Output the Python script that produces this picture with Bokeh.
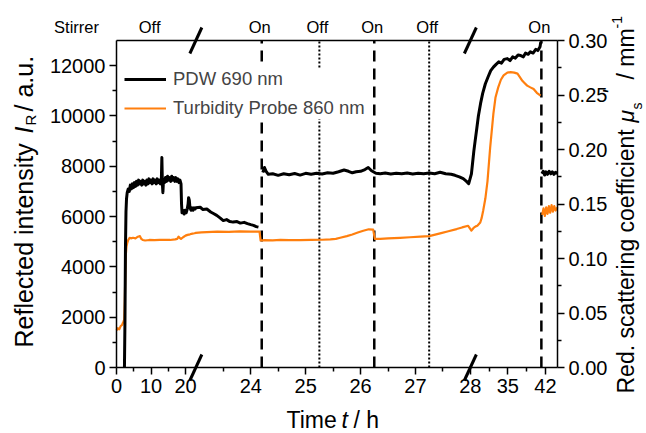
import numpy as np
from bokeh.plotting import figure
from bokeh.models import (Range1d, LinearAxis, FixedTicker, Label,
                          Legend, LegendItem, ColumnDataSource,
                          PrintfTickFormatter)
from bokeh.embed import file_html
from bokeh.resources import INLINE

nan = float("nan")

# ---------------- data ----------------
# PDW 690 nm reflected intensity (left axis, a.u.) vs time (h)
pdw_t = [
    2.3, 2.45, 2.6, 2.75, 2.9, 3.1, 3.4, 3.7, 4.0, 4.3,
    4.6, 4.9, 5.2, 5.5, 5.8, 6.1, 6.4, 6.7, 7.0, 7.3,
    7.6, 7.9, 8.2, 8.5, 8.8, 9.1, 9.4, 9.7, 10.0, 10.3,
    10.6, 10.9, 11.2, 11.5, 11.8, 12.1, 12.4, 12.7, 13.0, 13.15,
    13.3, 13.45, 13.6, 13.9, 14.2, 14.5, 14.8, 15.1, 15.4, 15.7,
    16.0, 16.3, 16.6, 16.9, 17.2, 17.5, 17.8, 18.1, 18.4, 18.7,
    18.85, 19.0, 19.3, 19.6, 19.9, 20.2, 20.5, 20.75, 20.9, 21.1,
    21.3, 21.6, 21.9, 22.2, 22.5, 22.8, 23.0, 23.08, 23.13, 23.2,
    23.27, 23.32, 23.38, 23.44, 23.5, 23.56, 23.62, 23.68, 23.75, 23.81,
    23.88, 23.94, 24.0, 24.05, 24.1, 24.14, nan, 24.22, 24.25, 24.28,
    24.32, 24.4, 24.5, 24.6, 24.7, 24.8, 24.9, 25.0, 25.1, 25.2,
    25.3, 25.4, 25.5, 25.6, 25.7, 25.78, 25.85, 25.92, 26.0, 26.08,
    26.14, 26.2, 26.28, 26.36, 26.45, 26.55, 26.65, 26.75, 26.85, 26.95,
    27.05, 27.15, 27.25, 27.35, 27.45, 27.55, 27.65, 27.72, 27.8, 27.87,
    27.93, 27.97, 28.2, 28.4, 28.65, 28.9, 29.2, 29.5, 29.9, 30.3,
    30.8, 31.3, 31.8, 32.3, 32.8, 33.3, 33.8, 34.3, 34.9, 35.4,
    35.9, 36.4, 36.9, 37.4, 37.9, 38.3, 38.8, 39.2, 39.7, 40.2,
    40.6, 41.0, 41.15, nan, 41.35, 41.6, 41.85, 42.1, 42.4, 42.7,
    43.0, 43.3, 43.6, 43.9, 44.26,
]
pdw_intensity = [
    0, 1800, 4800, 6200, 6700, 6950, 7100, 7000, 7250, 7100,
    7300, 7150, 7350, 7200, 7400, 7250, 7450, 7300, 7400, 7250,
    7450, 7300, 7400, 7250, 7450, 7300, 7500, 7350, 7450, 7300,
    7500, 7350, 7450, 7300, 7500, 7350, 7450, 7300, 7450, 8350,
    7300, 6950, 7400, 7350, 7550, 7400, 7600, 7450, 7550, 7400,
    7600, 7450, 7550, 7400, 7550, 7400, 7500, 7350, 7450, 7300,
    6500, 6150, 6250, 6100, 6250, 6150, 6300, 6500, 6750, 6650,
    6350, 6250, 6350, 6250, 6350, 6300, 6350, 6370, 6280, 6300,
    6180, 6120, 6050, 5950, 5840, 5880, 5800, 5780, 5800, 5740,
    5770, 5720, 5680, 5650, 5600, 5580, nan, 7750, 7950, 7800,
    7680, 7700, 7640, 7700, 7660, 7710, 7650, 7720, 7680, 7720,
    7690, 7740, 7720, 7780, 7850, 7800, 7740, 7780, 7800, 7870,
    7950, 7820, 7720, 7700, 7730, 7690, 7720, 7700, 7730, 7690,
    7720, 7700, 7730, 7700, 7760, 7700, 7680, 7640, 7580, 7510,
    7400, 7310, 7700, 8100, 8600, 9020, 9500, 10000, 10490, 10900,
    11280, 11550, 11800, 11940, 12050, 12150, 12100, 12250, 12280, 12200,
    12350, 12300, 12420, 12400, 12350, 12500, 12450, 12550, 12500, 12650,
    12600, 12750, 12950, nan, 7700, 7800, 7650, 7780, 7680, 7800,
    7700, 7780, 7680, 7760, 7720,
]

# Turbidity probe 860 nm reduced scattering coefficient (right axis, 1/mm)
turb_t = [
    0.0, 0.4, 0.8, 1.2, 1.6, 2.0, 2.25, 2.4, 2.55, 2.7,
    2.9, 3.1, 3.4, 3.8, 4.2, 4.8, 5.5, 6.2, 6.8, 7.2,
    7.6, 8.3, 9.5, 11.0, 12.5, 14.0, 15.5, 17.0, 17.6, 18.0,
    18.3, 18.7, 19.3, 20.0, 20.6, 21.3, 22.0, 22.6, 23.0, 23.1,
    23.2, 23.39, 23.6, 23.8, 24.0, 24.16, 24.18, 24.25, 24.4, 24.54,
    24.7, 24.9, 25.1, 25.3, 25.45, 25.55, 25.63, 25.75, 25.85, 25.95,
    26.05, 26.15, 26.23, 26.26, 26.36, 26.5, 26.72, 26.9, 27.09, 27.25,
    27.45, 27.6, 27.75, 27.85, 27.96, 28.2, 28.6, 29.0, 29.3, 29.85,
    30.1, 30.4, 30.8, 31.2, 31.7, 32.3, 32.7, 33.2, 33.7, 34.2,
    34.9, 35.5, 36.2, 36.8, 37.3, 37.7, 38.1, 38.6, 39.2, 39.8,
    40.4, 41.1, nan, 41.4, 41.65, 41.9, 42.15, 42.4, 42.65, 42.9,
    43.15, 43.4, 43.65, 43.9, 44.26,
]
turb_mu = [
    0.034, 0.036, 0.035, 0.038, 0.039, 0.042, 0.044, 0.060, 0.085, 0.103,
    0.111, 0.114, 0.117, 0.119, 0.1185, 0.119, 0.1185, 0.120, 0.1205, 0.118,
    0.117, 0.1165, 0.117, 0.1168, 0.117, 0.1172, 0.117, 0.1175, 0.118, 0.120,
    0.119, 0.118, 0.1195, 0.121, 0.1217, 0.1222, 0.1228, 0.1232, 0.1235, 0.124,
    0.1242, 0.1247, 0.1245, 0.1248, 0.1246, 0.1247, 0.1165, 0.1168, 0.1166, 0.117,
    0.1168, 0.1168, 0.117, 0.1172, 0.1175, 0.118, 0.119, 0.1205, 0.122, 0.1238,
    0.1255, 0.1268, 0.1265, 0.118, 0.118, 0.1185, 0.119, 0.1195, 0.120, 0.1205,
    0.123, 0.125, 0.127, 0.1285, 0.130, 0.1256, 0.128, 0.1295, 0.130, 0.133,
    0.137, 0.144, 0.155, 0.171, 0.202, 0.233, 0.248, 0.257, 0.264, 0.268,
    0.2705, 0.271, 0.2705, 0.2696, 0.266, 0.263, 0.261, 0.2586, 0.257, 0.2555,
    0.252, 0.2494, nan, 0.140, 0.146, 0.139, 0.147, 0.141, 0.148, 0.142,
    0.149, 0.143, 0.148, 0.144, 0.147,
]

# stirrer events
stirrer_first_label_t = 9.6
stirrer_t = [24.2, 25.25, 26.25, 27.25, 41.25]
stirrer_state = ["On", "Off", "On", "Off", "On"]

# axis ticks
x_major_t = [0, 10, 20, 24, 25, 26, 27, 28, 35, 42]
x_minor_t = [5, 15, 23.5, 24.5, 25.5, 26.5, 27.5, 31.5, 38.5]
y_major = [0, 2000, 4000, 6000, 8000, 10000, 12000]
y_minor = [1000, 3000, 5000, 7000, 9000, 11000]
mu_major = [0.0, 0.05, 0.10, 0.15, 0.20, 0.25, 0.30]
mu_minor = [0.025, 0.075, 0.125, 0.175, 0.225, 0.275]
axis_breaks_t = [23.0, 28.0]

# ---------------- layout ----------------
W, H = 645, 433                                          # canvas px
FRAME_L, FRAME_T, FRAME_R, FRAME_B = 116, 40, 557, 367   # plot box, canvas px
FRAME_W = FRAME_R - FRAME_L
FRAME_H = FRAME_B - FRAME_T
Y_MAX = 13000
MU_MAX = 0.30
SCALES = [3.45, 54.9, 5.36]   # px per hour in the three axis segments
FONT = "Liberation Sans"


def to_disp(t):
    t = np.asarray(t, dtype=float)
    b0, b1 = axis_breaks_t
    d1 = t * SCALES[0]
    d2 = b0 * SCALES[0] + (t - b0) * SCALES[1]
    d3 = b0 * SCALES[0] + (b1 - b0) * SCALES[1] + (t - b1) * SCALES[2]
    return np.where(t <= b0, d1, np.where(t <= b1, d2, d3))


def X(px):
    return float(px - FRAME_L)


def Y(py):
    return float((FRAME_B - py) / FRAME_H * Y_MAX)


def MU(py):
    return float((FRAME_B - py) / FRAME_H * MU_MAX)


# the frame spans the whole canvas; the plot box is drawn with bounded axes
p = figure(width=W, height=H, output_backend="svg", toolbar_location=None,
           x_range=Range1d(X(0), X(W)), y_range=Range1d(Y(H), Y(0)),
           min_border=0)
p.extra_y_ranges = {"mu": Range1d(MU(H), MU(0))}
p.xgrid.visible = False
p.ygrid.visible = False
p.outline_line_color = None
p.background_fill_color = "white"
p.border_fill_color = "white"

# stirrer event lines
on_x = [float(to_disp(t)) for t, s in zip(stirrer_t, stirrer_state) if s == "On"]
off_x = [float(to_disp(t)) for t, s in zip(stirrer_t, stirrer_state) if s == "Off"]
p.segment(x0=on_x, y0=[0] * len(on_x), x1=on_x, y1=[Y_MAX] * len(on_x),
          line_color="black", line_dash="11 7", line_width=2.5)
p.segment(x0=off_x, y0=[0] * len(off_x), x1=off_x, y1=[Y_MAX] * len(off_x),
          line_color="black", line_dash="2 2", line_width=2)

src_turb = ColumnDataSource(dict(x=to_disp(turb_t), y=np.array(turb_mu, dtype=float)))
src_pdw = ColumnDataSource(dict(x=to_disp(pdw_t), y=np.array(pdw_intensity, dtype=float)))
r_turb = p.line("x", "y", source=src_turb, y_range_name="mu",
                line_color="#FF7F0E", line_width=2.2, line_join="round")
r_pdw = p.line("x", "y", source=src_pdw, line_color="black",
               line_width=3, line_join="round")

# axes (fixed at the plot box edges)
maj_d = [round(float(v), 4) for v in to_disp(x_major_t)]
min_d = [round(float(v), 4) for v in to_disp(x_minor_t)]
xa = p.xaxis[0]
xa.ticker = FixedTicker(ticks=maj_d, minor_ticks=min_d)
xa.major_label_overrides = {d: str(lab) for d, lab in zip(maj_d, x_major_t)}
xa.fixed_location = 0
xa.bounds = (0, FRAME_W)

ya = p.yaxis[0]
ya.ticker = FixedTicker(ticks=y_major, minor_ticks=y_minor)
ya.fixed_location = 0
ya.bounds = (0, Y_MAX)

ra = LinearAxis(y_range_name="mu",
                ticker=FixedTicker(ticks=mu_major, minor_ticks=mu_minor),
                formatter=PrintfTickFormatter(format="%.2f"),
                fixed_location=FRAME_W, bounds=(0, MU_MAX))
p.add_layout(ra, "right")

ta = LinearAxis(ticker=FixedTicker(ticks=[], minor_ticks=[]),
                fixed_location=Y_MAX, bounds=(0, FRAME_W))
p.add_layout(ta, "above")

for ax in (xa, ya, ra, ta):
    ax.axis_label = None
    ax.axis_line_width = 1.5
    ax.axis_line_color = "black"
    ax.major_tick_line_width = 1.5
    ax.minor_tick_line_width = 1.5
    ax.major_tick_out = 7
    ax.major_tick_in = 0
    ax.minor_tick_out = 4
    ax.minor_tick_in = 0
    ax.major_label_text_font = FONT
    ax.major_label_text_font_size = "20px"
    ax.major_label_text_color = "black"
    ax.major_label_standoff = 4

# axis break marks
dy = 13 * Y_MAX / FRAME_H
bx0, by0, bx1, by1 = [], [], [], []
for b in axis_breaks_t:
    d = float(to_disp(b))
    for y0 in (0.0, float(Y_MAX)):
        bx0.append(d - 6)
        by0.append(y0 - dy)
        bx1.append(d + 6)
        by1.append(y0 + dy)
p.segment(x0=bx0, y0=by0, x1=bx1, y1=by1, line_color="black", line_width=3)


def lab(x, y, text, size, style="normal", align="left", angle=0.0):
    p.add_layout(Label(x=x, y=y, text=text, text_font=FONT,
                       text_font_size=size, text_font_style=style,
                       text_align=align, text_baseline="middle",
                       angle=angle, text_color="black"))


# stirrer labels (y = vertical centre of the capitals)
lab(X(76), Y(26), "Stirrer", "16.5px", align="center")
lab(float(to_disp(stirrer_first_label_t)), Y(26), "Off", "16.5px", align="center")
for t, s in zip(stirrer_t, stirrer_state):
    lab(float(to_disp(t)) - 2, Y(26), s, "16.5px", align="center")

# x axis label: Time t / h
lab(X(286), Y(419), "Time", "23px")
lab(X(341), Y(419), "t", "23px", style="italic")
lab(X(353), Y(419), "/ h", "23px")

# left axis label: Reflected intensity I_R / a.u.
A = np.pi / 2
lab(X(23), Y(347), "Reflected intensity", "25px", angle=A)
lab(X(23), Y(133), "I", "25px", style="italic", angle=A)
lab(X(30), Y(125), "R", "15px", angle=A)
lab(X(23), Y(111), "/ a.u.", "25px", angle=A)

# right axis label: Red. scattering coefficient mu_s' / mm^-1
lab(X(625), Y(393), "Red. scattering coefficient", "23px", angle=A)
lab(X(625), Y(122), "\u03bc", "23px", style="italic", angle=A)
lab(X(636), Y(109), "s", "14px", angle=A)
lab(X(611), Y(94), "'", "23px", style="italic", angle=A)
lab(X(625), Y(79), "/ mm", "23px", angle=A)
lab(X(616), Y(28), "-1", "14px", angle=A)

legend = Legend(items=[LegendItem(label="PDW 690 nm", renderers=[r_pdw]),
                       LegendItem(label="Turbidity Probe 860 nm", renderers=[r_turb])],
                location=(124, H - 119), margin=0, padding=4, spacing=7,
                glyph_width=42, glyph_height=20, label_height=20,
                label_standoff=7, label_text_font=FONT,
                label_text_font_size="18.5px", border_line_color=None,
                background_fill_color="white", background_fill_alpha=1.0)
p.add_layout(legend)

open("out.html", "w").write(file_html(p, INLINE, title="Stirrer experiment"))
